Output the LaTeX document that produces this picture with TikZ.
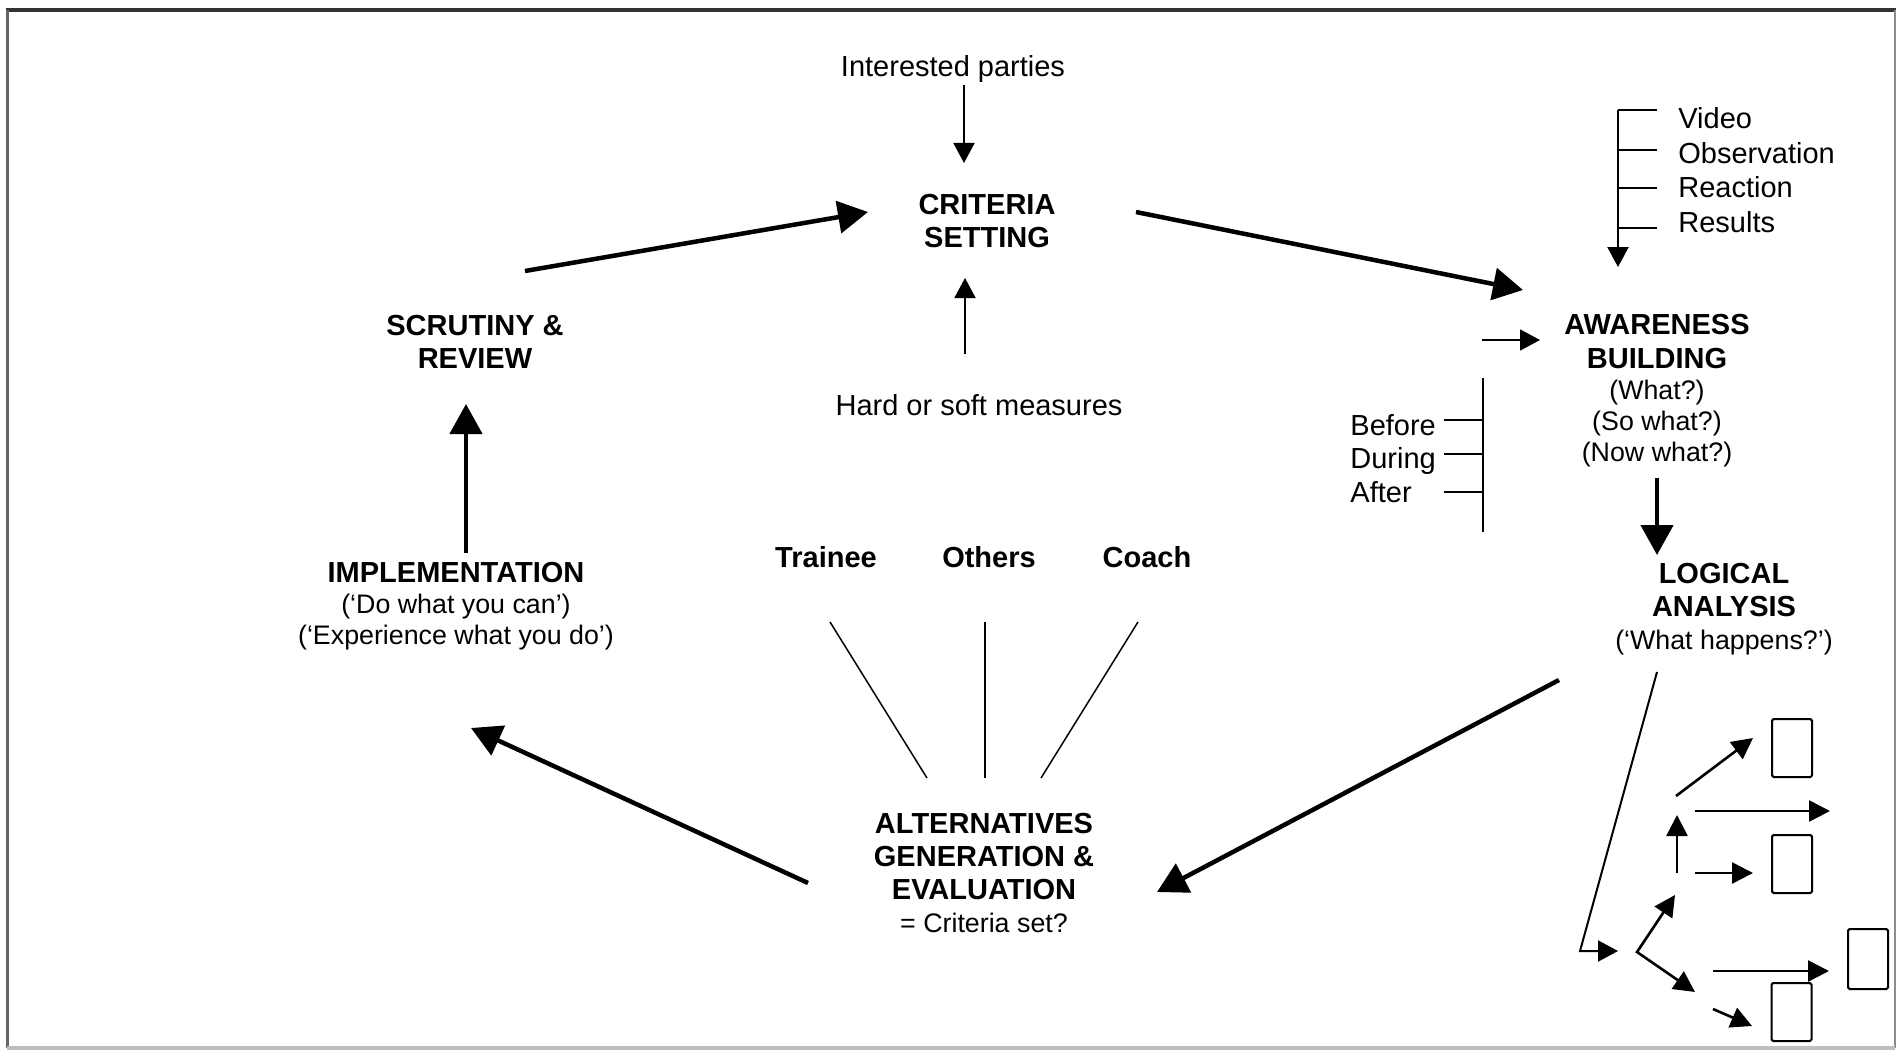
\documentclass[tikz,border=0pt]{standalone}
\usepackage{fontspec}
\setmainfont{Liberation Sans}
\usetikzlibrary{arrows.meta}
\newcommand{\subtx}{\mdseries\fontsize{13.4}{15.5}\selectfont}
\begin{document}
\begin{tikzpicture}[x=0.5pt,y=-0.5pt,
  lbl/.style={font=\fontsize{14.5}{16}\selectfont, inner sep=0pt, text height=10.4pt, text depth=0pt},
  blbl/.style={lbl, font=\fontsize{14.5}{16}\selectfont\bfseries},
  ttl/.style={font=\fontsize{14.5}{16.5}\selectfont\bfseries, inner sep=0pt, align=center},
  bigarr/.style={line width=2.25pt, -{Triangle[length=15pt,width=16pt]}},
  smallarr/.style={line width=1pt, -{Triangle[length=10pt,width=10.5pt]}},
  forkarr/.style={line width=1.3pt, -{Triangle[length=10.5pt,width=10.5pt]}},
  tickln/.style={line width=1.2pt},
  spoke/.style={line width=0.75pt},
  boxsq/.style={draw, line width=1pt, rounded corners=0.8pt, inner sep=0pt, minimum width=20pt, minimum height=29pt}
]
\useasboundingbox (0,0) rectangle (1902,1054);
% frame
\draw[line width=1.6pt, black!80] (6,10) -- (1896,10);
\draw[line width=1.5pt, black!60] (7,10) -- (7,1048);
\draw[line width=1.2pt, black!45] (1895,10) -- (1895,1048);
\draw[line width=1.6pt, black!25] (7,1048) -- (1895,1048);

% main stage nodes
\node[ttl] (cs) at (987,221) {CRITERIA\\SETTING};
\node[ttl] (sr) at (475,342) {SCRUTINY \&\\REVIEW};
\node[ttl, font=\fontsize{14.5}{15.5}\selectfont\bfseries] (im) at (456,606)
  {IMPLEMENTATION\\{\subtx (‘Do what you can’)}\\{\subtx (‘Experience what you do’)}};
\node[ttl] (ae) at (984,873)
  {ALTERNATIVES\\GENERATION \&\\EVALUATION\\{\subtx = Criteria set?}};
\node[ttl, font=\fontsize{14.5}{15.5}\selectfont\bfseries] (ab) at (1657,391)
  {AWARENESS\\[1.5pt]BUILDING\\{\subtx (What?)}\\{\subtx (So what?)}\\{\subtx (Now what?)}};
\node[ttl] (la) at (1724,609)
  {LOGICAL\\ANALYSIS\\{\subtx (‘What happens?’)}};

% other labels
\node[lbl] (ip) at (953,66) {Interested parties};
\node[lbl] (hs) at (979,405) {Hard or soft measures};
\node[blbl] (tr) at (826,557) {Trainee};
\node[blbl] (ot) at (989,557) {Others};
\node[blbl] (co) at (1147,557) {Coach};
\node[lbl, anchor=west] (vid) at (1678,118) {Video};
\node[lbl, anchor=west] (obs) at (1678,153) {Observation};
\node[lbl, anchor=west] (rea) at (1678,187) {Reaction};
\node[lbl, anchor=west] (res) at (1678,222) {Results};
\node[lbl, anchor=west] (bef) at (1350,425) {Before};
\node[lbl, anchor=west] (dur) at (1350,458) {During};
\node[lbl, anchor=west] (aft) at (1350,492) {After};

% connector end points
\coordinate (sr-o) at (525,271);
\coordinate (cs-i) at (868,212);
\coordinate (cs-o) at (1136,212);
\coordinate (ab-i) at (1523,290);
\coordinate (ab-o) at (1657,478);
\coordinate (la-i) at (1657,555);
\coordinate (la-o) at (1559,680);
\coordinate (ae-i) at (1157,892);
\coordinate (ae-o) at (808,883);
\coordinate (im-i) at (471,728);
\coordinate (im-o) at (466,553);
\coordinate (sr-i) at (466,404);

% cycle arrows
\draw[bigarr] (sr-o) -- (cs-i);
\draw[bigarr] (cs-o) -- (ab-i);
\draw[bigarr] (ab-o) -- (la-i);
\draw[bigarr] (la-o) -- (ae-i);
\draw[bigarr] (ae-o) -- (im-i);
\draw[bigarr] (im-o) -- (sr-i);

% criteria inputs
\coordinate (ip-o) at (964,85);
\coordinate (cs-t) at (964,163);
\coordinate (hs-o) at (965,354);
\coordinate (cs-b) at (965,278);
\draw[smallarr] (ip-o) -- (cs-t);
\draw[smallarr] (hs-o) -- (cs-b);

% Video bracket
\coordinate (vb-t) at (1618,110);
\coordinate (vb-b) at (1618,267);
\draw[tickln] (1657,110) -- (vb-t);
\draw[smallarr, line width=1.2pt] (vb-t) -- (vb-b);
\draw[tickln] (1618,150) -- (1657,150);
\draw[tickln] (1618,188) -- (1657,188);
\draw[tickln] (1618,228) -- (1657,228);

% awareness side arrow
\coordinate (sa-o) at (1482,340);
\coordinate (sa-i) at (1540,340);
\draw[smallarr] (sa-o) -- (sa-i);

% Before bracket
\draw[tickln] (1483,378) -- (1483,532);
\draw[tickln] (1444,420) -- (1483,420);
\draw[tickln] (1444,454) -- (1483,454);
\draw[tickln] (1444,492) -- (1483,492);

% spokes
\coordinate (tr-s) at (830,622); \coordinate (tr-e) at (927,778);
\coordinate (ot-s) at (985,622); \coordinate (ot-e) at (985,778);
\coordinate (co-s) at (1138,622); \coordinate (co-e) at (1041,778);
\draw[spoke] (tr-s) -- (tr-e);
\draw[spoke] (ot-s) -- (ot-e);
\draw[spoke] (co-s) -- (co-e);

% logical analysis tree
\coordinate (la-b) at (1657,672);
\coordinate (fk-c) at (1580,951);
\coordinate (fk-a) at (1618,951);
\draw[smallarr] (la-b) -- (fk-c) -- (fk-a);
\coordinate (fv) at (1637,952);
\coordinate (fu) at (1675,895);
\coordinate (fd) at (1695,992);
\draw[line width=1.3pt, {Triangle[length=10.5pt,width=10.5pt]}-{Triangle[length=10.5pt,width=10.5pt]}] (fu) -- (fv) -- (fd);
\draw[forkarr] (1677,873) -- (1677,815);
\draw[forkarr] (1676,796) -- (1753,738);
\draw[forkarr] (1695,811) -- (1830,811);
\draw[forkarr] (1695,873) -- (1753,873);
\draw[forkarr] (1713,971) -- (1829,971);
\draw[forkarr] (1713,1009) -- (1752,1026);

\node[boxsq] (b1) at (1792,748) {};
\node[boxsq] (b2) at (1792,864) {};
\node[boxsq, minimum height=30pt] (b3) at (1868,959) {};
\node[boxsq] (b4) at (1791.5,1012) {};
\end{tikzpicture}
\end{document}
